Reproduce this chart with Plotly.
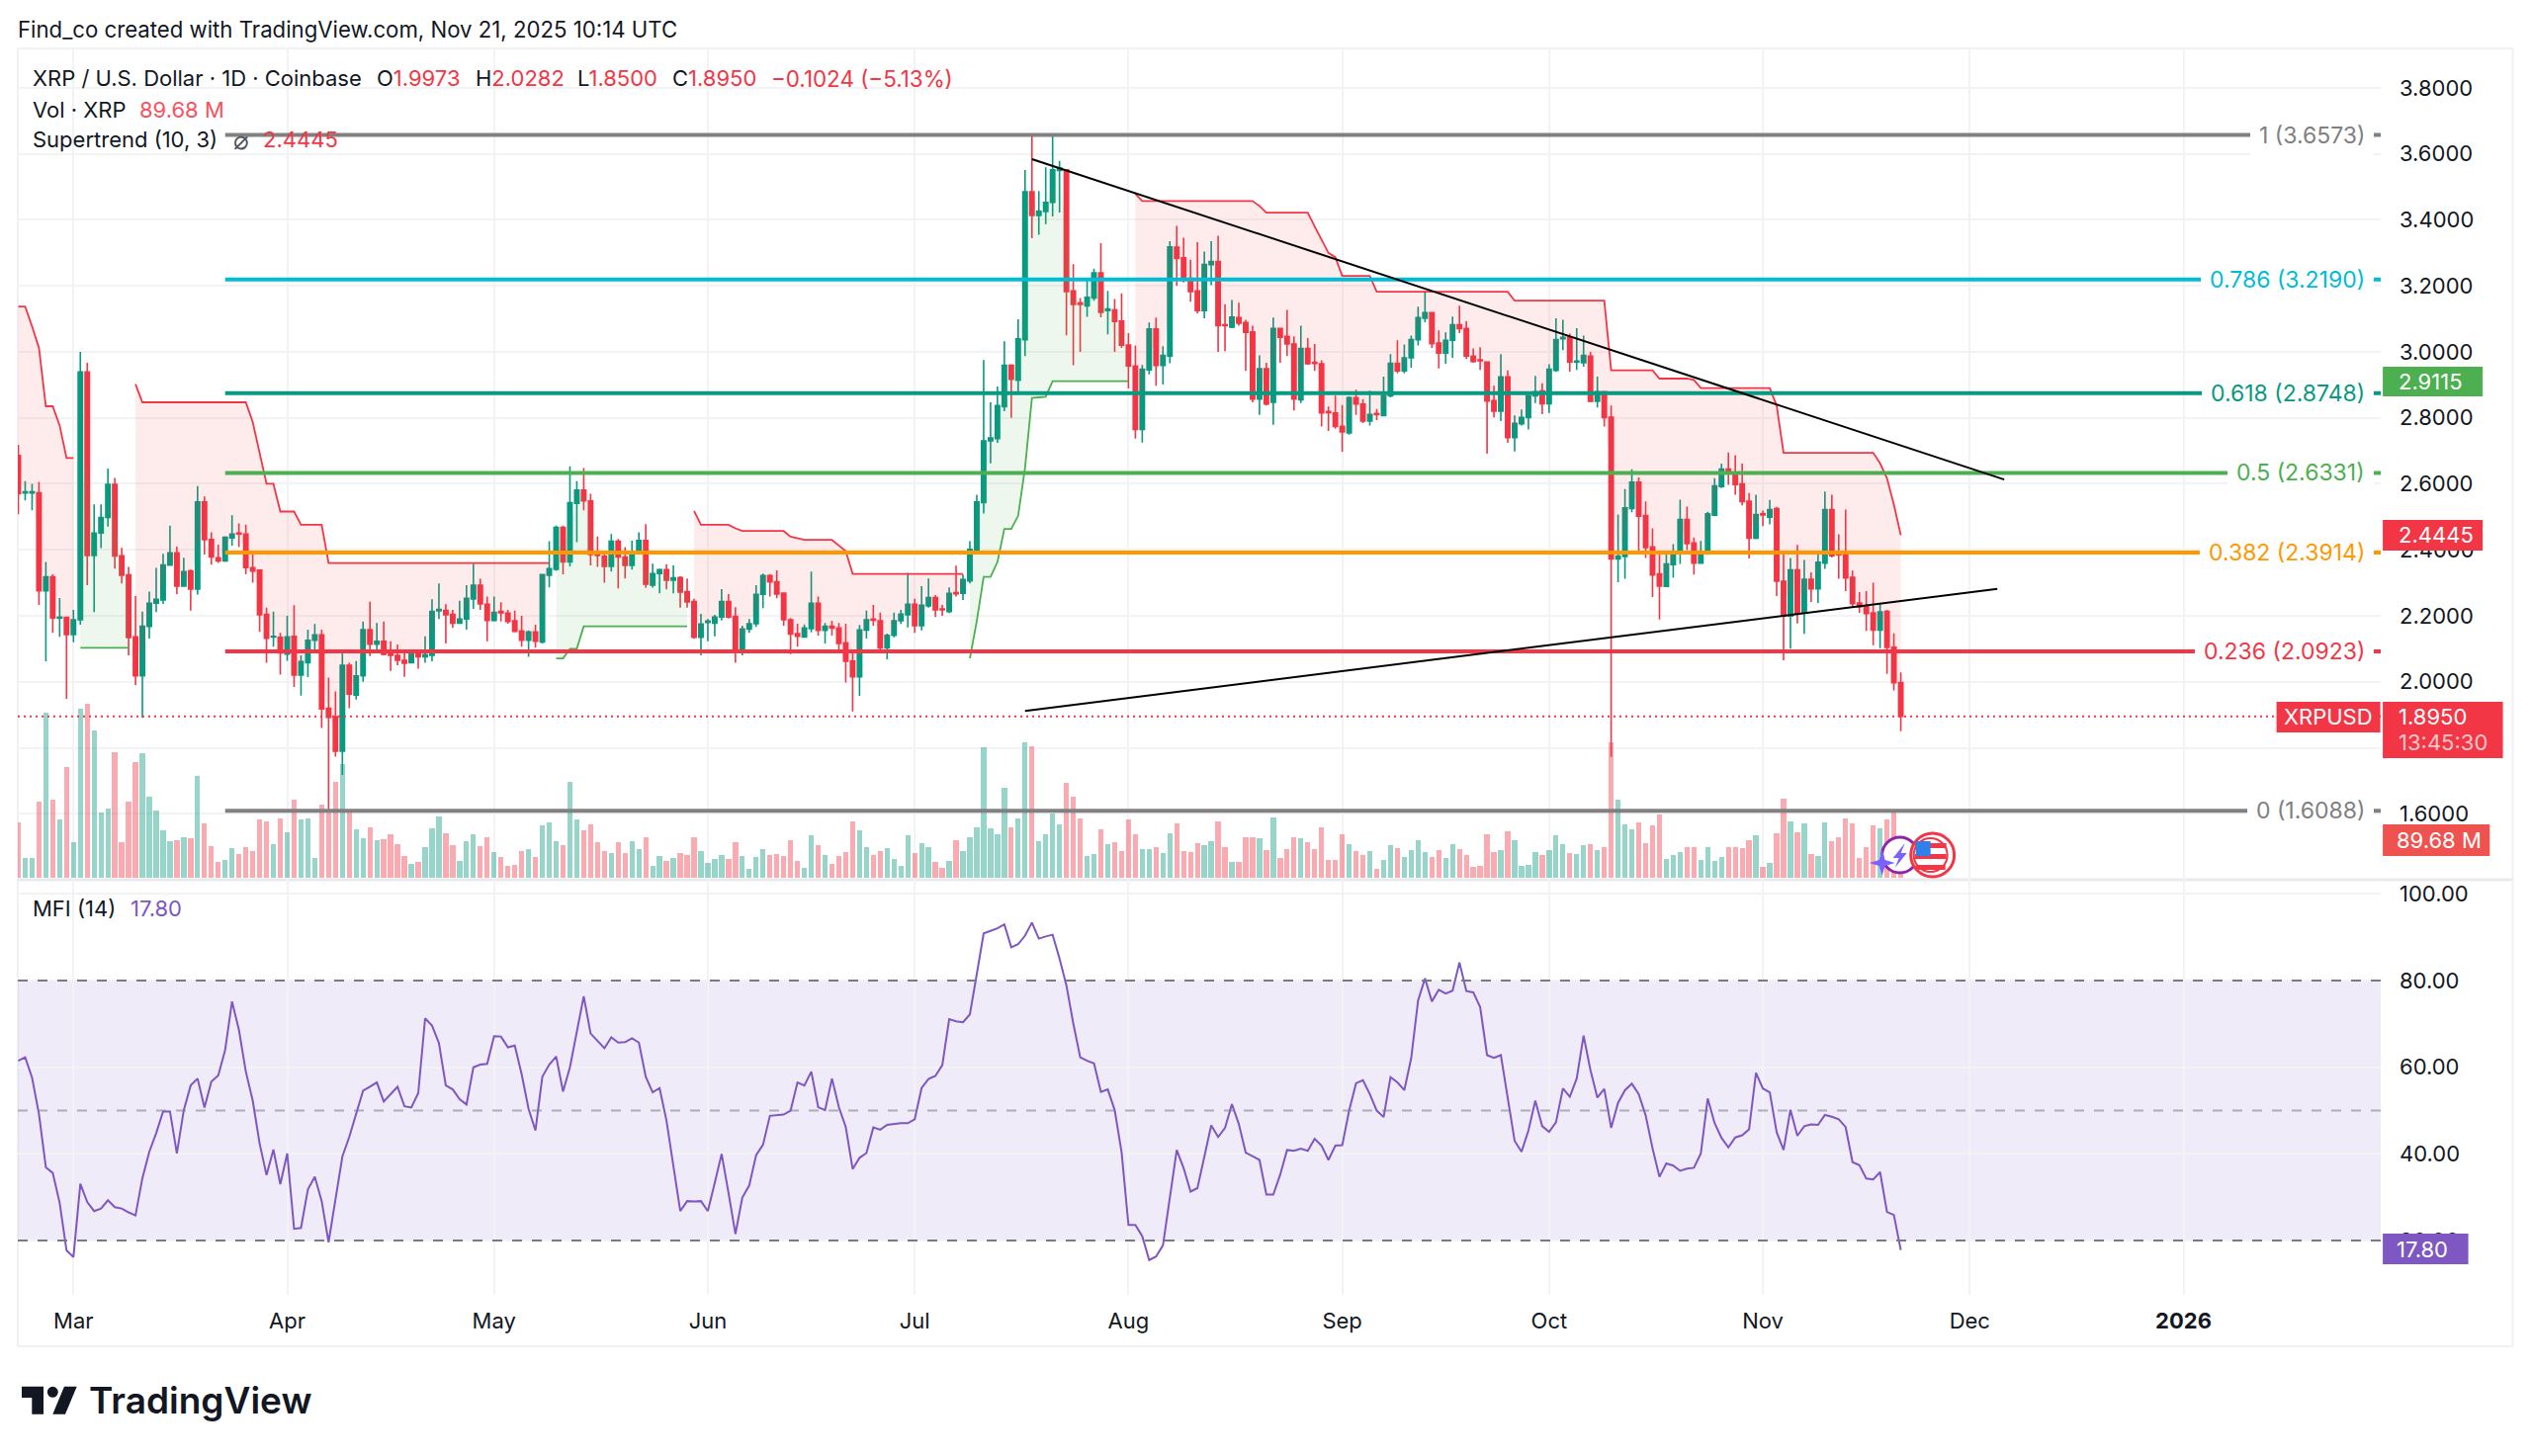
import pandas as pd
import plotly.graph_objects as go

# XRP/USD daily candles, 21 Feb 2025 to 21 Nov 2025
dates = pd.date_range("2025-02-21", periods=274, freq="D")

opens = [
    2.686,2.572,2.572,2.573,2.276,2.318,2.193,2.195,2.143,2.188,
    2.939,2.383,2.451,2.498,2.598,2.382,2.324,2.136,2.018,2.168,
    2.238,2.248,2.354,2.391,2.290,2.336,2.281,2.545,2.431,2.376,
    2.366,2.436,2.451,2.448,2.346,2.338,2.204,2.136,2.135,2.084,
    2.138,2.020,2.058,2.126,2.142,1.920,1.894,1.790,2.050,1.960,
    2.018,2.158,2.114,2.123,2.096,2.080,2.065,2.058,2.088,2.076,
    2.080,2.215,2.216,2.204,2.178,2.190,2.251,2.293,2.235,2.186,
    2.213,2.208,2.185,2.154,2.126,2.151,2.121,2.323,2.341,2.468,
    2.363,2.541,2.581,2.548,2.386,2.380,2.350,2.426,2.378,2.353,
    2.393,2.428,2.293,2.328,2.340,2.308,2.316,2.273,2.243,2.135,
    2.180,2.178,2.196,2.243,2.198,2.090,2.160,2.176,2.265,2.322,
    2.303,2.269,2.188,2.146,2.136,2.161,2.238,2.156,2.168,2.163,
    2.118,2.063,2.015,2.157,2.190,2.185,2.103,2.141,2.185,2.203,
    2.235,2.170,2.230,2.255,2.221,2.213,2.270,2.268,2.306,2.397,
    2.543,2.730,2.737,2.834,2.959,2.914,3.037,3.485,3.413,3.425,
    3.453,3.550,3.552,3.185,3.149,3.139,3.163,3.239,3.125,3.127,
    3.093,3.021,2.957,2.765,2.945,3.069,2.959,2.987,3.317,3.285,
    3.223,3.185,3.125,3.264,3.274,3.082,3.075,3.104,3.089,3.060,
    2.857,2.949,2.847,3.071,3.047,3.024,2.855,3.010,2.968,2.964,
    2.819,2.815,2.774,2.754,2.861,2.842,2.790,2.813,2.807,2.867,
    2.965,2.942,2.982,3.037,3.102,3.119,3.027,2.996,3.035,3.082,
    3.071,2.987,2.976,2.969,2.852,2.820,2.924,2.740,2.782,2.801,
    2.867,2.881,2.843,2.944,3.040,3.044,2.969,2.967,2.987,2.850,
    2.879,2.802,2.372,2.380,2.525,2.605,2.504,2.409,2.327,2.289,
    2.355,2.390,2.492,2.421,2.360,2.390,2.505,2.592,2.645,2.631,
    2.600,2.547,2.435,2.509,2.499,2.525,2.305,2.199,2.339,2.209,
    2.311,2.282,2.360,2.522,2.389,2.385,2.317,2.239,2.229,2.209,
    2.157,2.213,2.105,1.9973,
]
highs = [
    2.718,2.608,2.600,2.606,2.363,2.326,2.254,2.198,2.218,3.000,
    2.967,2.538,2.538,2.646,2.618,2.406,2.348,2.260,2.213,2.273,
    2.345,2.388,2.473,2.410,2.376,2.340,2.593,2.562,2.453,2.416,
    2.441,2.505,2.480,2.476,2.388,2.340,2.225,2.213,2.148,2.200,
    2.232,2.080,2.158,2.175,2.158,2.013,1.971,2.088,2.058,2.063,
    2.183,2.243,2.178,2.183,2.123,2.113,2.088,2.093,2.089,2.138,
    2.250,2.298,2.235,2.218,2.246,2.293,2.358,2.312,2.258,2.258,
    2.241,2.218,2.216,2.200,2.156,2.173,2.325,2.426,2.473,2.473,
    2.653,2.608,2.648,2.570,2.440,2.390,2.448,2.433,2.408,2.428,
    2.453,2.478,2.358,2.343,2.356,2.353,2.320,2.313,2.252,2.206,
    2.190,2.203,2.281,2.266,2.226,2.170,2.190,2.293,2.328,2.326,
    2.338,2.270,2.193,2.176,2.174,2.334,2.258,2.178,2.185,2.178,
    2.176,2.088,2.172,2.216,2.233,2.210,2.146,2.210,2.218,2.330,
    2.252,2.290,2.313,2.263,2.233,2.286,2.352,2.325,2.426,2.567,
    2.975,2.847,2.895,3.032,2.962,3.099,3.551,3.6573,3.487,3.559,
    3.654,3.579,3.554,3.266,3.163,3.217,3.252,3.329,3.185,3.160,
    3.177,3.057,3.019,2.960,3.089,3.104,3.017,3.335,3.382,3.346,
    3.279,3.332,3.304,3.335,3.352,3.144,3.157,3.149,3.097,3.079,
    2.989,2.967,3.104,3.072,3.127,3.047,3.079,3.042,3.024,2.974,
    2.834,2.867,2.839,2.865,2.885,2.857,2.882,2.827,2.925,2.993,
    3.035,3.022,3.049,3.137,3.185,3.120,3.065,3.059,3.107,3.140,
    3.093,3.010,3.014,2.971,2.897,2.993,2.944,2.807,2.825,2.869,
    2.927,2.905,2.962,3.102,3.097,3.055,3.072,3.049,3.000,2.925,
    2.881,2.837,2.507,2.584,2.644,2.619,2.547,2.465,2.397,2.390,
    2.417,2.552,2.531,2.437,2.427,2.515,2.617,2.661,2.695,2.687,
    2.661,2.572,2.567,2.519,2.551,2.530,2.392,2.375,2.415,2.369,
    2.332,2.392,2.577,2.567,2.447,2.522,2.337,2.272,2.275,2.300,
    2.237,2.218,2.147,2.0282,
]
lows = [
    2.508,2.550,2.520,2.233,2.062,2.148,2.136,1.948,2.120,2.173,
    2.293,2.211,2.405,2.470,2.343,2.298,2.080,1.990,1.891,2.131,
    2.211,2.236,2.354,2.266,2.288,2.216,2.264,2.386,2.355,2.360,
    2.363,2.413,2.408,2.326,2.300,2.151,2.058,2.106,2.022,2.064,
    1.984,1.958,2.014,2.093,1.860,1.6088,1.773,1.718,1.920,1.946,
    2.000,2.078,2.098,2.080,2.033,2.050,2.015,2.056,2.040,2.058,
    2.062,2.190,2.116,2.163,2.176,2.158,2.221,2.218,2.123,2.183,
    2.183,2.176,2.150,2.106,2.076,2.103,2.116,2.286,2.336,2.326,
    2.350,2.423,2.520,2.353,2.348,2.300,2.334,2.283,2.313,2.340,
    2.388,2.285,2.285,2.268,2.280,2.268,2.225,2.225,2.130,2.080,
    2.123,2.138,2.186,2.192,2.058,2.080,2.148,2.166,2.223,2.258,
    2.253,2.170,2.084,2.106,2.136,2.150,2.140,2.116,2.140,2.086,
    1.998,1.910,1.957,2.131,2.170,2.096,2.068,2.135,2.175,2.165,
    2.148,2.156,2.225,2.196,2.200,2.208,2.258,2.248,2.298,2.395,
    2.510,2.662,2.724,2.820,2.800,2.872,2.987,3.344,3.355,3.387,
    3.410,3.422,3.050,2.959,3.000,3.106,3.155,3.105,3.053,3.000,
    3.012,2.889,2.737,2.725,2.932,2.897,2.901,2.965,3.200,3.210,
    3.152,3.117,3.102,3.202,3.000,3.002,3.072,3.079,2.942,2.847,
    2.809,2.837,2.779,2.967,2.987,2.822,2.845,2.961,2.942,2.774,
    2.760,2.767,2.697,2.749,2.809,2.784,2.777,2.793,2.805,2.862,
    2.935,2.935,2.952,3.019,3.090,3.012,2.950,2.964,2.982,3.057,
    2.979,2.967,2.945,2.691,2.801,2.790,2.724,2.698,2.777,2.765,
    2.845,2.811,2.815,2.939,3.005,2.940,2.945,2.955,2.847,2.831,
    2.774,1.772,2.302,2.312,2.514,2.389,2.375,2.257,2.189,2.287,
    2.315,2.357,2.399,2.325,2.359,2.385,2.502,2.587,2.597,2.567,
    2.535,2.374,2.432,2.472,2.477,2.260,2.065,2.100,2.177,2.145,
    2.242,2.239,2.342,2.377,2.312,2.275,2.227,2.209,2.154,2.111,
    2.102,2.024,1.974,1.8500,
]
closes = [
    2.570,2.576,2.576,2.276,2.318,2.193,2.196,2.143,2.188,2.939,
    2.383,2.451,2.498,2.598,2.381,2.323,2.134,2.018,2.168,2.238,
    2.250,2.354,2.391,2.290,2.334,2.281,2.545,2.431,2.378,2.366,
    2.438,2.448,2.448,2.346,2.336,2.203,2.132,2.138,2.088,2.136,
    2.020,2.061,2.126,2.142,1.918,1.892,1.790,2.050,1.963,2.018,
    2.158,2.114,2.123,2.083,2.080,2.065,2.056,2.088,2.076,2.082,
    2.213,2.219,2.203,2.178,2.190,2.253,2.293,2.236,2.186,2.210,
    2.209,2.183,2.153,2.126,2.151,2.123,2.325,2.343,2.468,2.363,
    2.543,2.581,2.548,2.386,2.383,2.350,2.426,2.378,2.353,2.393,
    2.428,2.296,2.328,2.340,2.308,2.315,2.272,2.242,2.135,2.175,
    2.184,2.196,2.243,2.196,2.093,2.160,2.176,2.265,2.322,2.303,
    2.266,2.188,2.145,2.138,2.163,2.238,2.156,2.168,2.163,2.116,
    2.062,2.015,2.157,2.188,2.187,2.103,2.141,2.185,2.205,2.235,
    2.170,2.232,2.255,2.218,2.218,2.268,2.267,2.310,2.401,2.545,
    2.730,2.739,2.837,2.959,2.917,3.039,3.485,3.413,3.426,3.453,
    3.552,3.557,3.183,3.144,3.144,3.165,3.239,3.120,3.130,3.092,
    3.020,2.957,2.765,2.947,3.069,2.959,2.989,3.318,3.283,3.221,
    3.183,3.125,3.265,3.274,3.079,3.079,3.105,3.087,3.059,2.857,
    2.949,2.842,3.071,3.044,3.024,2.857,3.010,2.964,2.965,2.815,
    2.816,2.774,2.757,2.861,2.842,2.790,2.810,2.810,2.867,2.965,
    2.942,2.982,3.037,3.104,3.119,3.025,2.996,3.035,3.082,3.070,
    2.987,2.971,2.973,2.851,2.820,2.924,2.740,2.783,2.801,2.867,
    2.879,2.843,2.947,3.037,3.044,2.969,2.972,2.989,2.850,2.879,
    2.801,2.372,2.381,2.527,2.605,2.502,2.407,2.324,2.290,2.357,
    2.390,2.492,2.419,2.360,2.392,2.509,2.594,2.645,2.631,2.598,
    2.546,2.435,2.507,2.506,2.522,2.305,2.199,2.339,2.207,2.311,
    2.282,2.362,2.522,2.382,2.385,2.315,2.237,2.227,2.207,2.157,
    2.212,2.104,1.9973,1.8950,
]
# daily volume, millions of XRP
volumes = [
    131,47,47,181,392,185,139,263,85,402,
    414,350,155,166,298,85,181,276,296,194,
    161,113,88,90,97,95,242,129,75,38,
    43,70,57,73,64,138,135,81,142,109,
    185,139,141,47,174,160,229,270,162,116,
    95,120,90,92,103,81,53,34,38,73,
    118,146,107,77,40,88,105,75,96,62,
    51,29,31,64,68,51,124,131,88,79,
    229,139,113,127,84,64,59,84,59,88,
    68,98,29,52,40,48,59,55,98,64,
    35,46,55,45,85,52,22,51,68,55,
    57,52,90,40,24,101,77,55,34,52,
    62,135,113,74,55,64,70,45,29,101,
    59,83,74,38,23,40,90,64,96,120,
    310,118,105,213,120,141,322,313,88,105,
    152,127,226,194,141,52,57,116,81,85,
    63,138,105,68,68,73,59,107,129,63,
    62,83,79,88,135,74,38,38,96,96,
    94,66,144,48,68,97,95,85,68,120,
    42,42,103,81,63,55,63,22,44,79,
    70,51,66,90,62,51,66,48,81,68,
    55,27,29,105,62,66,111,90,29,31,
    62,55,66,101,81,59,57,77,81,66,
    73,322,185,127,116,133,83,124,151,46,
    55,62,74,73,44,73,40,51,73,74,
    70,90,101,27,35,107,189,135,109,129,
    57,53,131,88,96,141,129,48,74,124,
    118,139,156,89.68,
]
# Money Flow Index (14)
mfi = [
    61.5,62.3,57.6,49.2,36.9,35.6,28.7,17.7,16.2,33.1,
    28.9,26.8,27.4,29.3,27.7,27.4,26.5,25.8,34.4,40.5,
    44.8,49.8,49.8,40.1,50.1,55.8,57.4,50.7,56.7,58.1,
    64.0,75.2,68.6,59.0,52.3,42.4,35.1,41.0,33.0,40.1,
    22.7,22.9,31.8,34.7,29.1,19.6,29.5,39.4,43.9,49.2,
    54.6,55.5,56.5,52.1,53.8,55.5,51.0,50.7,54.0,71.3,
    69.6,65.6,55.8,54.9,52.6,51.4,60.0,60.6,60.8,67.2,
    67.1,64.6,65.0,58.4,50.4,45.4,57.8,60.6,62.5,54.4,
    60.0,68.2,76.4,67.8,66.1,64.4,66.9,65.7,65.8,66.7,
    65.7,57.8,54.2,55.2,47.7,37.5,26.8,29.1,29.0,29.1,
    26.8,33.3,40.0,31.0,21.5,29.9,32.7,39.7,42.1,48.8,
    48.9,49.1,50.0,56.5,55.8,59.0,50.8,50.1,57.4,50.8,
    46.2,36.5,39.1,40.2,46.1,45.6,46.7,46.9,47.1,47.1,
    48.0,55.2,57.3,58.0,60.5,71.1,70.6,70.4,72.2,81.5,
    90.9,91.5,92.1,93.0,87.7,88.4,90.4,93.4,89.7,90.2,
    90.6,85.1,78.9,70.1,62.3,61.5,60.9,54.3,54.9,50.1,
    40.4,23.6,23.6,21.0,15.5,16.3,18.9,29.9,40.9,36.7,
    31.3,32.1,39.2,46.6,43.9,46.0,51.5,46.9,40.3,39.5,
    38.6,30.6,30.6,35.2,40.9,40.7,41.2,40.7,43.5,41.9,
    38.6,41.9,42.0,50.0,56.3,57.0,53.8,50.0,48.5,57.7,
    56.5,54.7,62.1,75.4,80.5,75.2,77.9,77.0,77.7,84.2,
    77.6,77.3,73.9,62.8,62.2,62.8,52.6,43.0,40.5,45.4,
    52.3,46.4,45.1,47.3,55.1,53.2,57.4,67.3,59.3,53.0,
    55.0,46.0,51.8,54.7,56.2,53.8,48.9,41.3,34.7,37.8,
    37.3,36.1,36.6,36.8,40.1,52.8,47.1,43.7,41.5,43.8,
    44.3,45.7,58.7,55.1,54.2,45.0,40.9,50.2,44.2,46.4,
    46.8,46.7,49.0,48.6,48.0,46.2,38.1,37.4,34.3,34.1,
    35.8,26.6,25.9,17.80,
]

# Supertrend (10, 3) band, one list per trend leg; first day of each leg alongside
st_down_1 = [3.137,3.137,3.077,3.012,2.835,2.835,2.777,2.678,2.678]
st_up_1 = [2.103,2.103,2.103,2.103,2.103,2.103,2.103,2.103]
st_down_2 = [
    2.902,2.847,2.847,2.847,2.847,2.847,2.847,2.847,2.847,2.847,2.847,2.847,2.847,2.847,2.847,2.847,2.847,
    2.787,2.698,2.600,2.600,2.516,2.516,2.516,2.476,2.476,2.476,2.476,
    2.360,2.360,2.360,2.360,2.360,2.360,2.360,2.360,2.360,2.360,2.360,2.360,2.360,2.360,2.360,2.360,2.360,
    2.360,2.360,2.360,2.360,2.360,2.360,2.360,2.360,2.360,2.360,2.360,2.360,2.360,2.360,2.360,2.360,
]
st_up_2 = [2.071,2.071,2.100,2.100,2.168,2.168,2.168,2.168,2.168,2.168,2.168,2.168,2.168,2.168,2.168,2.168,2.168,2.168,2.168,2.168]
st_down_3 = [
    2.518,2.476,2.476,2.476,2.476,2.476,2.465,2.457,2.457,2.457,2.457,2.457,2.457,2.457,
    2.440,2.435,2.430,2.430,2.430,2.430,2.430,2.413,2.396,
    2.327,2.327,2.327,2.327,2.327,2.327,2.327,2.327,2.327,2.327,2.327,2.327,2.327,2.327,2.327,2.327,2.327,
]
st_up_3 = [
    2.071,2.184,2.318,2.318,2.363,2.463,2.463,2.503,2.648,2.860,2.862,2.864,
    2.911,2.911,2.911,2.911,2.911,2.911,2.911,2.911,2.911,2.911,2.911,2.911,
]
st_down_4 = [
    3.479,3.457,3.457,3.457,3.457,3.457,3.457,3.457,3.457,3.457,3.457,3.457,3.457,3.457,3.457,3.457,3.457,3.457,
    3.442,3.422,3.422,3.422,3.422,3.422,3.422,3.422,3.380,3.340,3.300,3.287,
    3.230,3.230,3.230,3.230,3.230,
    3.182,3.182,3.182,3.182,3.182,3.182,3.182,3.182,3.182,3.182,3.182,3.182,3.182,3.182,3.182,3.182,3.182,3.182,3.182,3.182,
    3.155,3.155,3.155,3.155,3.155,3.155,3.155,3.155,3.155,3.155,3.155,3.155,3.155,3.155,
    2.944,2.944,2.944,2.944,2.944,2.944,2.944,2.919,2.919,2.919,2.919,2.919,2.915,
    2.890,2.890,2.890,2.890,2.890,2.890,2.890,2.890,2.890,2.890,2.890,2.837,
    2.694,2.694,2.694,2.694,2.694,2.694,2.694,2.694,2.694,2.694,2.694,2.694,2.694,2.694,
    2.662,2.617,2.537,2.4445,
]
supertrend_legs = [
    ("down", "2025-02-21", st_down_1),
    ("up", "2025-03-02", st_up_1),
    ("down", "2025-03-10", st_down_2),
    ("up", "2025-05-10", st_up_2),
    ("down", "2025-05-30", st_down_3),
    ("up", "2025-07-09", st_up_3),
    ("down", "2025-08-02", st_down_4),
]

# Fibonacci retracement levels
fib_ratios = ["1", "0.786", "0.618", "0.5", "0.382", "0.236", "0"]
fib_prices = [3.6573, 3.2190, 2.8748, 2.6331, 2.3914, 2.0923, 1.6088]
fib_colors = ["#808080", "#00BCD4", "#089981", "#4CAF50", "#FF9800", "#F23645", "#808080"]

# Hand-drawn trendlines
resistance_dates = ["2025-07-18", "2025-12-06"]
resistance_prices = [3.584, 2.613]
support_dates = ["2025-07-17", "2025-12-05"]
support_prices = [1.9115, 2.2817]

month_ticks = ["2025-03-01", "2025-04-01", "2025-05-01", "2025-06-01", "2025-07-01", "2025-08-01",
               "2025-09-01", "2025-10-01", "2025-11-01", "2025-12-01", "2026-01-01"]
month_labels = ["Mar", "Apr", "May", "Jun", "Jul", "Aug", "Sep", "Oct", "Nov", "Dec", "<b>2026</b>"]
price_ticks = [1.6, 1.8, 2.0, 2.2, 2.4, 2.6, 2.8, 3.0, 3.2, 3.4, 3.6, 3.8]
mfi_ticks = [20, 40, 60, 80, 100]

UP = "#089981"
DOWN = "#F23645"
PURPLE = "#7E57C2"
INK = "#131722"
GRID = "#F3F3F5"
FONT = "Inter"

W, H = 2560, 1473
LEFT, RIGHT, TOP, BOTTOM = 18.0, 2408.4, 49.0, 1310.0
PANE_SPLIT = 890.0
X_START, X_END = "2025-02-20 22:19", "2026-01-29 14:24"


def px(x):
    return (x - LEFT) / (RIGHT - LEFT)


def py(y):
    return (BOTTOM - y) / (BOTTOM - TOP)


SPLIT = py(PANE_SPLIT)
fig = go.Figure()

# Volume sits on the base axis so the price traces stay in front of it
fig.add_trace(go.Bar(
    x=dates, y=volumes, yaxis="y", width=0.76 * 86400000,
    marker=dict(color=["rgba(8,153,129,0.42)" if c >= o else "rgba(242,54,69,0.42)"
                       for o, c in zip(opens, closes)], line_width=0),
    hoverinfo="skip"))

fig.add_trace(go.Candlestick(
    x=dates, open=opens, high=highs, low=lows, close=closes, yaxis="y3", whiskerwidth=0,
    increasing=dict(line=dict(color=UP, width=1.6), fillcolor=UP),
    decreasing=dict(line=dict(color=DOWN, width=1.6), fillcolor=DOWN),
    hoverinfo="skip"))

series = pd.DataFrame({"open": opens, "close": closes}, index=dates)
for direction, first_day, band in supertrend_legs:
    leg_dates = pd.date_range(first_day, periods=len(band), freq="D")
    body_mid = ((series["open"] + series["close"]) / 2).reindex(leg_dates)
    colour = DOWN if direction == "down" else "#4CAF50"
    shade = "rgba(242,54,69,0.1)" if direction == "down" else "rgba(76,175,80,0.1)"
    fig.add_trace(go.Scatter(x=leg_dates, y=body_mid, yaxis="y3", mode="lines",
                             line=dict(width=0), hoverinfo="skip"))
    fig.add_trace(go.Scatter(x=leg_dates, y=band, yaxis="y3", mode="lines",
                             line=dict(color=colour, width=1.8), fill="tonexty",
                             fillcolor=shade, hoverinfo="skip"))

# Last-price guide
fig.add_trace(go.Scatter(x=[X_START, X_END], y=[closes[-1], closes[-1]], yaxis="y3", mode="lines",
                         line=dict(color=DOWN, width=2, dash="2px,4px"), hoverinfo="skip"))

for price, colour in zip(fib_prices, fib_colors):
    fig.add_trace(go.Scatter(x=["2025-03-23", X_END], y=[price, price], yaxis="y3", mode="lines",
                             line=dict(color=colour, width=4), hoverinfo="skip"))

for xs, ys in ((resistance_dates, resistance_prices), (support_dates, support_prices)):
    fig.add_trace(go.Scatter(x=xs, y=ys, yaxis="y3", mode="lines",
                             line=dict(color="#000000", width=2), hoverinfo="skip"))

fig.add_trace(go.Scatter(x=dates, y=mfi, yaxis="y2", mode="lines",
                         line=dict(color=PURPLE, width=2), hoverinfo="skip"))

shapes = []


def rect(x0, y0, x1, y1, fill, layer="above"):
    shapes.append(dict(type="rect", xref="paper", yref="paper", x0=px(x0), x1=px(x1),
                       y0=py(y0), y1=py(y1), fillcolor=fill, line_width=0, layer=layer))


def rule(x0, y0, x1, y1, colour, width=2):
    shapes.append(dict(type="line", xref="paper", yref="paper", x0=px(x0), x1=px(x1),
                       y0=py(y0), y1=py(y1), line=dict(color=colour, width=width), layer="below"))


def poly(points, fill):
    path = "M" + " L".join(f"{px(a):.6f},{py(b):.6f}" for a, b in points) + " Z"
    shapes.append(dict(type="path", xref="paper", yref="paper", path=path,
                       fillcolor=fill, line_width=0, layer="above"))


def disc(cx, cy, r, fill, edge=None, width=0):
    shapes.append(dict(type="circle", xref="paper", yref="paper", x0=px(cx - r), x1=px(cx + r),
                       y0=py(cy + r), y1=py(cy - r), fillcolor=fill,
                       line=dict(color=edge or fill, width=width), layer="above"))


# Frame around the panes and the axes
rule(LEFT, TOP, 2542, TOP, "#F0F1F4")
rule(LEFT, 1362, 2542, 1362, "#F0F1F4")
rule(LEFT, TOP, LEFT, 1362, "#F0F1F4")
rule(2542, TOP, 2542, 1362, "#F0F1F4")
rule(LEFT, PANE_SPLIT, 2542, PANE_SPLIT, "#E9EAEE", 3)

# MFI overbought/oversold channel
shapes.append(dict(type="rect", xref="paper", yref="y2", x0=0, x1=1, y0=20, y1=80,
                   fillcolor="rgba(126,87,194,0.12)", line_width=0, layer="below"))
for level, alpha in ((80, 1.0), (50, 0.55), (20, 1.0)):
    shapes.append(dict(type="line", xref="paper", yref="y2", x0=0, x1=1, y0=level, y1=level,
                       line=dict(color=f"rgba(120,123,134,{alpha})", width=2, dash="10px,10px"),
                       layer="above"))

# Price scale tags
rect(2303, 710, 2408, 741, DOWN)
rect(2410.5, 710, 2532, 767, DOWN)
rect(2410.5, 526, 2511.5, 557, DOWN)
rect(2410.5, 371, 2511.5, 401, "#4CAF50")
rect(2410.5, 834, 2518.7, 866, "#EF5350")
rect(2410.5, 1248, 2497, 1279, PURPLE)

# Event markers beside the last candle
disc(1922, 865, 18, "#FFFFFF", "#8E24AA", 3)
poly([(1927, 853), (1915, 868), (1921, 868), (1917, 878), (1929, 863), (1923, 863)], "#7B61FF")
poly([(1904, 860), (1907, 870), (1917, 873), (1907, 876), (1904, 886), (1901, 876), (1891, 873), (1901, 870)], "#7B61FF")
disc(1955, 865, 22, "#FFFFFF", DOWN, 3)
disc(1953, 865, 17, "#FFFFFF", DOWN, 2)
rect(1937, 853, 1969, 858, DOWN)
rect(1937, 864, 1969, 869, DOWN)
rect(1938, 875, 1968, 880, DOWN)
rect(1938, 851, 1953, 866, "#2F80ED")

# TradingView mark
poly([(22, 1402.7), (44, 1402.7), (44, 1430.7), (32.3, 1430.7), (32.3, 1414), (22, 1414)], "#131722")
disc(53.3, 1408.3, 5.5, "#131722")
poly([(77.7, 1402.7), (66, 1430.7), (53.3, 1430.7), (65, 1402.7)], "#131722")

notes = []


def note(x, y, text, colour=INK, size=22, anchor="left", bg=None, pad=0, weight=None):
    font = dict(family=FONT, size=size, color=colour)
    if weight:
        font["weight"] = weight
    notes.append(dict(xref="paper", yref="paper", x=px(x), y=py(y), text=text, showarrow=False,
                      xanchor=anchor, yanchor="middle", font=font, bgcolor=bg, borderpad=pad,
                      borderwidth=0))


def tint(text, colour):
    return f'<span style="color:{colour}">{text}</span>'


note(18, 29, "Find_co created with TradingView.com, Nov 21, 2025 10:14 UTC", size=22.2)
note(33, 79, "XRP / U.S. Dollar · 1D · Coinbase")
note(381.5, 79, "O" + tint("1.9973", DOWN))
note(481.5, 79, "H" + tint("2.0282", DOWN))
note(584, 79, "L" + tint("1.8500", DOWN))
note(680, 79, "C" + tint("1.8950", DOWN))
note(780, 79, "−0.1024 (−5.13%)", DOWN, size=22.4)
note(33, 110.5, "Vol · XRP")
note(141, 110.5, "89.68 M", "#F7525F")
note(33, 141.5, "Supertrend (10, 3)")
note(236, 141.5, "⌀", "#50535E", size=26)
note(266, 141.5, "2.4445", DOWN)
note(33, 919, "MFI (14)")
note(132, 919, "17.80", PURPLE)

for ratio, price, colour in zip(fib_ratios, fib_prices, fib_colors):
    y = 422.7 + (2.8 - price) * 333.8
    note(2401, y, f"{ratio} ({price:.4f})", colour, size=23, anchor="right", bg="#FFFFFF", pad=9)

note(2355, 725, "XRPUSD", "#FFFFFF", anchor="center")
note(2426, 725, "1.8950", "#FFFFFF")
note(2426, 751, "13:45:30", "rgba(255,255,255,0.72)")
note(2426, 541, "2.4445", "#FFFFFF")
note(2426, 386, "2.9115", "#FFFFFF")
note(2424, 850, "89.68 M", "#FFFFFF")
note(2424, 1263.5, "17.80", "#FFFFFF")
note(90, 1416, "TradingView", "#131722", size=37, weight=600)

fig.update_layout(
    width=W, height=H, showlegend=False, paper_bgcolor="#FFFFFF", plot_bgcolor="#FFFFFF",
    margin=dict(l=LEFT, r=W - RIGHT, t=TOP, b=H - BOTTOM, autoexpand=False, pad=0),
    boxgap=0.38, boxgroupgap=0, bargap=0,
    font=dict(family=FONT, size=22, color=INK),
    xaxis=dict(type="date", range=[X_START, X_END], anchor="y2", domain=[0, 1],
               rangeslider=dict(visible=False), tickmode="array", tickvals=month_ticks,
               ticktext=month_labels, ticks="", showgrid=True, gridcolor=GRID, gridwidth=2,
               showline=False, zeroline=False, ticklabelstandoff=11),
    # volume scale, not displayed
    yaxis=dict(domain=[SPLIT, 1], range=[-4, 1968], anchor="x", showticklabels=False,
               showgrid=False, zeroline=False, ticks=""),
    # price scale
    yaxis3=dict(domain=[SPLIT, 1], range=[1.4001, 3.9195], overlaying="y", side="right", anchor="x",
                tickmode="array", tickvals=price_ticks, tickformat=".4f", ticks="",
                showgrid=True, gridcolor=GRID, gridwidth=2, zeroline=False, ticklabelstandoff=18),
    # MFI scale
    yaxis2=dict(domain=[0, SPLIT], range=[7.45, 103.3], side="right", anchor="x",
                tickmode="array", tickvals=mfi_ticks, tickformat=".2f", ticks="",
                showgrid=True, gridcolor=GRID, gridwidth=2, zeroline=False, ticklabelstandoff=18),
    shapes=shapes,
    annotations=notes,
)

fig.write_html("out.html")
